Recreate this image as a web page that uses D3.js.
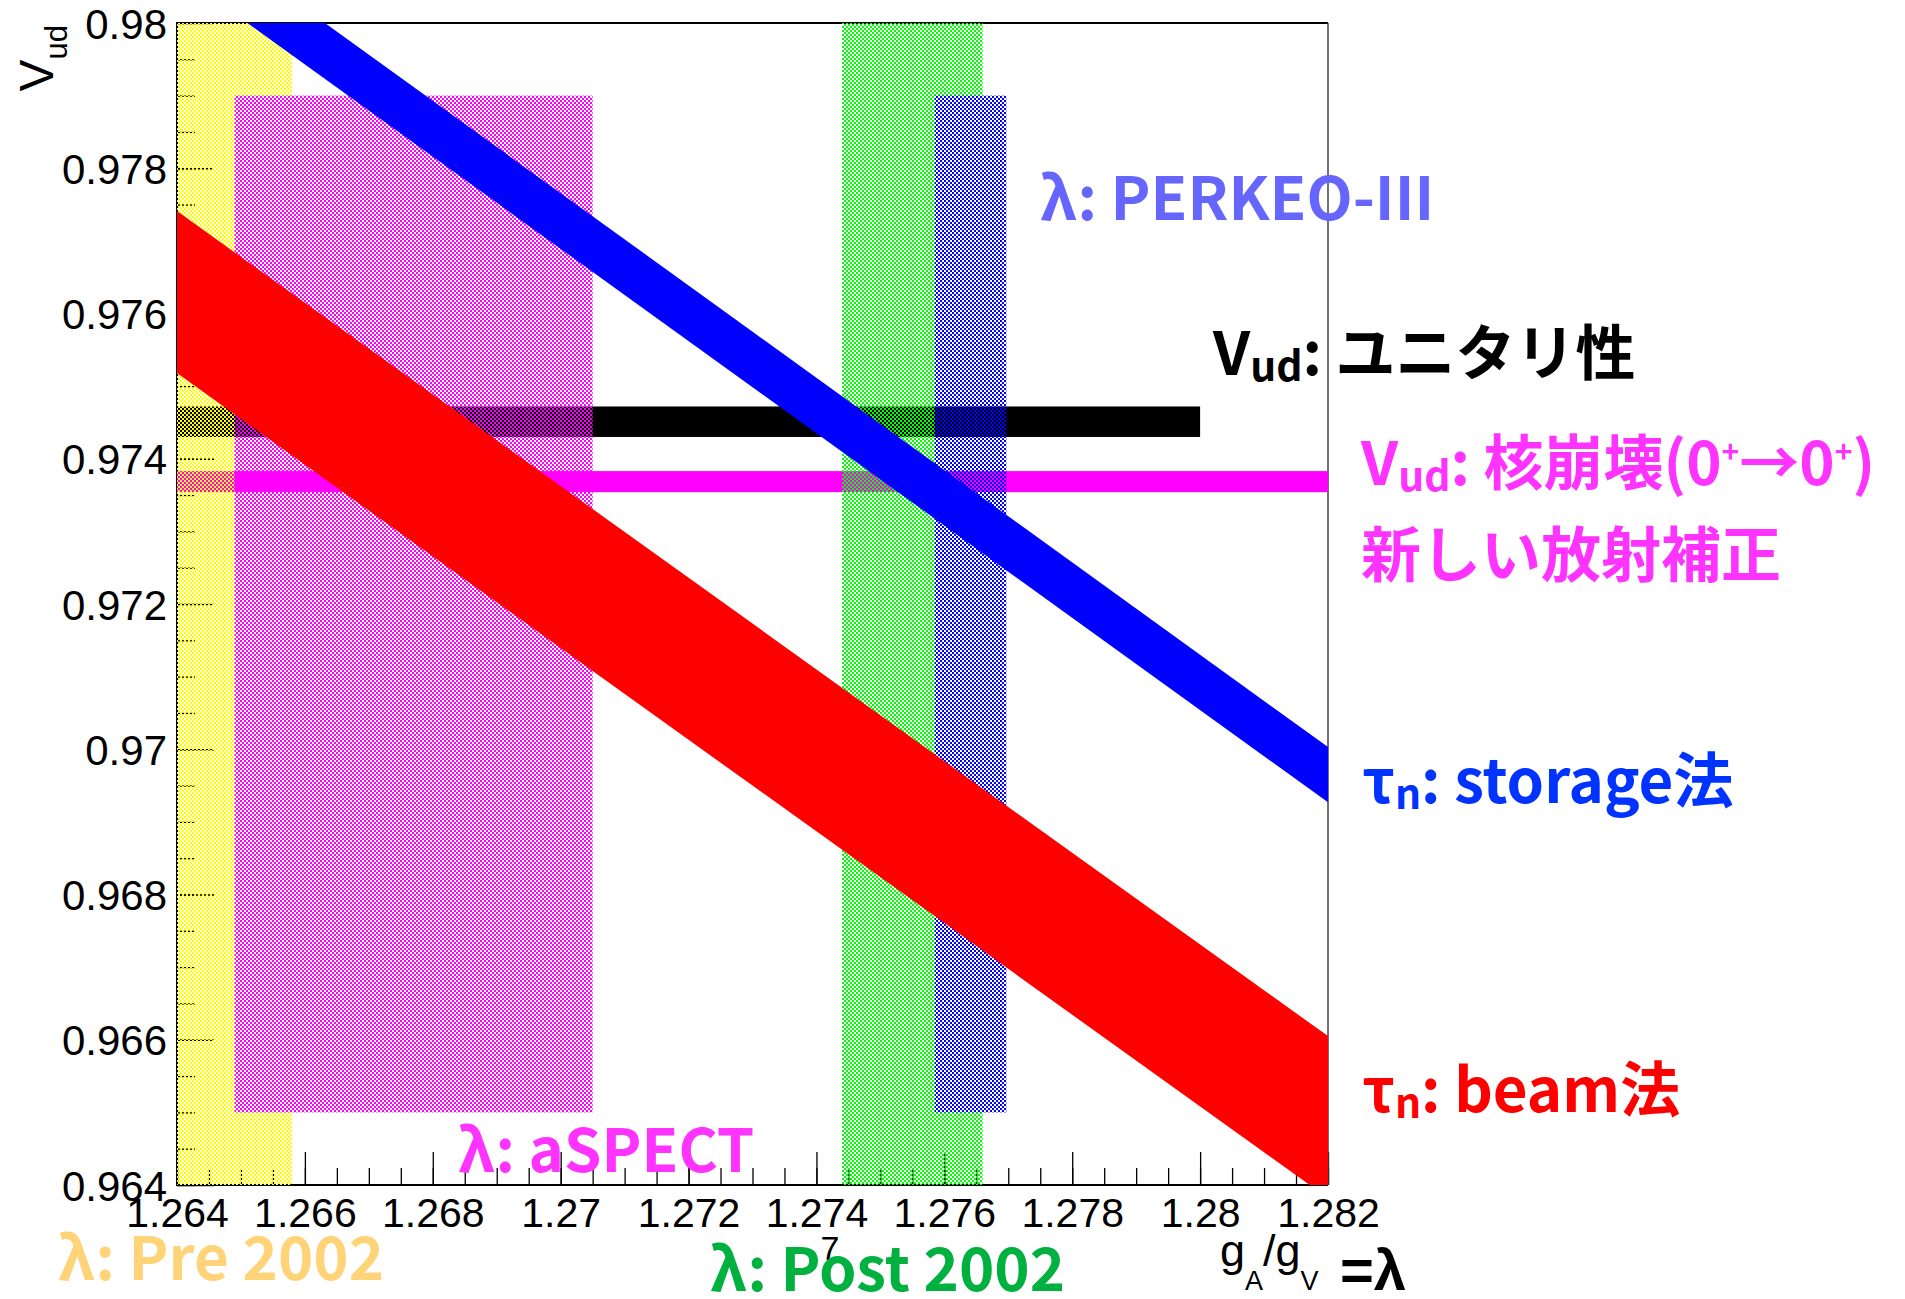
<!DOCTYPE html>
<html>
<head>
<meta charset="utf-8">
<script src="https://cdn.jsdelivr.net/npm/d3@7"></script>
<style>
  html, body { margin: 0; padding: 0; background: #fff; }
  svg { display: block; }
  .tick text { font-family: "Liberation Sans", Arial, sans-serif; fill: #000; }
  .lbl { font-family: "Noto Sans CJK JP", "Noto Sans", sans-serif; font-weight: 700; }
</style>
</head>
<body>
<div id="chart"></div>
<script>
// axis ranges (lambda = gA/gV on x, Vud on y)
const lamDomain = [1.264, 1.282];
const vudDomain = [0.964, 0.980];

const xTickValues = [1.264, 1.266, 1.268, 1.270, 1.272, 1.274, 1.276, 1.278, 1.280, 1.282];
const xTickLabels = ["1.264", "1.266", "1.268", "1.27", "1.272", "1.274", "1.276", "1.278", "1.28", "1.282"];
const yTickValues = [0.964, 0.966, 0.968, 0.970, 0.972, 0.974, 0.976, 0.978, 0.980];
const yTickLabels = ["0.964", "0.966", "0.968", "0.97", "0.972", "0.974", "0.976", "0.978", "0.98"];

// lambda measurements (dotted boxes)
const boxNames = ["Pre 2002", "aSPECT", "Post 2002", "PERKEO-III"];
const boxLamLo = [1.2630, 1.2649, 1.2744, 1.27585];
const boxLamHi = [1.2658, 1.2705, 1.2766, 1.27697];
const boxVudLo = [0.964, 0.965, 0.964, 0.965];
const boxVudHi = [0.980, 0.979, 0.980, 0.979];

// Vud horizontal bands
const hbandNames = ["unitarity", "0+ -> 0+"];
const hbandVudLo = [0.97430, 0.97354];
const hbandVudHi = [0.97472, 0.97383];
const hbandLamEnd = [1.280, 1.282];

// neutron lifetime bands, edges read at the two ends of the lambda axis
const edgeLam = [1.264, 1.282];
const storageUpper = [0.98147, 0.97003];
const storageLower = [0.98070, 0.96927];
const beamUpper = [0.97741, 0.96605];
const beamLower = [0.97518, 0.96382];

const W = 1905, H = 1299;
const mLeft = 177, mRight = 1328, mTop = 23, mBottom = 1185;

const svg = d3.select("#chart").append("svg")
  .attr("width", W).attr("height", H)
  .attr("viewBox", `0 0 ${W} ${H}`);

const x = d3.scaleLinear().domain(lamDomain).range([mLeft, mRight]);
const y = d3.scaleLinear().domain(vudDomain).range([mBottom, mTop]);

const defs = svg.append("defs");
defs.append("clipPath").attr("id", "plotclip")
  .append("rect")
  .attr("x", mLeft).attr("y", mTop)
  .attr("width", mRight - mLeft).attr("height", mBottom - mTop);

// checker fill like ROOT's dotted fill styles
const patColors = ["#ffff00", "#ff00ff", "#00ff00", "#0000ff"];
patColors.forEach((c, i) => {
  const p = defs.append("pattern")
    .attr("id", "pat" + i)
    .attr("patternUnits", "userSpaceOnUse")
    .attr("width", 4).attr("height", 4);
  p.append("rect").attr("x", 0).attr("y", 0).attr("width", 2).attr("height", 2).attr("fill", c);
  p.append("rect").attr("x", 2).attr("y", 2).attr("width", 2).attr("height", 2).attr("fill", c);
});

// axes (ticks inside the frame)
const xMinor = d3.range(0, 37).map(i => lamDomain[0] + i * 0.0005);
const yMinor = d3.range(0, 33).map(i => vudDomain[0] + i * 0.0005);

svg.append("g")
  .attr("transform", `translate(0,${mBottom})`)
  .call(d3.axisBottom(x).tickValues(xMinor).tickSize(-17).tickFormat(""))
  .call(g => g.select(".domain").remove())
  .selectAll("line").attr("stroke", "#000").attr("stroke-width", 1.3);

svg.append("g")
  .attr("transform", `translate(0,${mBottom})`)
  .call(d3.axisBottom(x).tickValues(xTickValues).tickSize(-33).tickPadding(12)
    .tickFormat((d, i) => xTickLabels[i]))
  .call(g => g.select(".domain").remove())
  .call(g => g.selectAll("line").attr("stroke", "#000").attr("stroke-width", 1.3))
  .call(g => g.selectAll("text").attr("font-size", 41).attr("dy", "0.72em"));

svg.append("g")
  .attr("transform", `translate(${mLeft},0)`)
  .call(d3.axisLeft(y).tickValues(yMinor).tickSize(-18).tickFormat(""))
  .call(g => g.select(".domain").remove())
  .selectAll("line").attr("stroke", "#000").attr("stroke-width", 1.3);

svg.append("g")
  .attr("transform", `translate(${mLeft},0)`)
  .call(d3.axisLeft(y).tickValues(yTickValues).tickSize(-37).tickPadding(10)
    .tickFormat((d, i) => yTickLabels[i]))
  .call(g => g.select(".domain").remove())
  .call(g => g.selectAll("line").attr("stroke", "#000").attr("stroke-width", 1.3))
  .call(g => g.selectAll("text").attr("font-size", 42).attr("dy", "0.36em"));

// frame
svg.append("path")
  .attr("d", `M${mRight},${mTop}H${mLeft}V${mBottom}H${mRight}`)
  .attr("fill", "none").attr("stroke", "#000").attr("stroke-width", 2);
svg.append("line")
  .attr("x1", mRight).attr("x2", mRight).attr("y1", mTop).attr("y2", mBottom)
  .attr("stroke", "#444").attr("stroke-width", 1.5);

const plot = svg.append("g").attr("clip-path", "url(#plotclip)");

// Vud bands
const hbandColors = ["#000000", "#ff00ff"];
plot.selectAll(".hband")
  .data(hbandNames)
  .enter().append("rect")
  .attr("class", "hband")
  .attr("x", x(lamDomain[0]))
  .attr("width", (d, i) => x(hbandLamEnd[i]) - x(lamDomain[0]))
  .attr("y", (d, i) => y(hbandVudHi[i]))
  .attr("height", (d, i) => y(hbandVudLo[i]) - y(hbandVudHi[i]))
  .attr("fill", (d, i) => hbandColors[i]);

// lambda boxes
plot.selectAll(".box")
  .data(boxNames)
  .enter().append("rect")
  .attr("class", "box")
  .attr("x", (d, i) => x(boxLamLo[i]))
  .attr("width", (d, i) => x(boxLamHi[i]) - x(boxLamLo[i]))
  .attr("y", (d, i) => y(boxVudHi[i]))
  .attr("height", (d, i) => y(boxVudLo[i]) - y(boxVudHi[i]))
  .attr("fill", (d, i) => `url(#pat${i})`);

// lifetime bands
function bandPath(upper, lower) {
  const pts = edgeLam.map((l, i) => [x(l), y(upper[i])])
    .concat(edgeLam.map((l, i) => [x(l), y(lower[i])]).reverse());
  return d3.line()(pts) + "Z";
}
plot.append("path").attr("d", bandPath(beamUpper, beamLower)).attr("fill", "#ff0000");
plot.append("path").attr("d", bandPath(storageUpper, storageLower)).attr("fill", "#0000ff");

// axis titles
const yt = svg.append("text")
  .attr("transform", `translate(53,${mTop + 2}) rotate(-90)`)
  .attr("text-anchor", "end")
  .attr("font-family", "Liberation Sans, Arial, sans-serif")
  .attr("font-size", 48);
yt.append("tspan").text("V");
yt.append("tspan").attr("dy", 14).attr("font-size", 31).text("ud");

const xt = svg.append("text")
  .attr("x", 1220).attr("y", 1266)
  .attr("font-family", "Liberation Sans, Arial, sans-serif")
  .attr("font-size", 45);
xt.append("tspan").text("g");
xt.append("tspan").attr("dy", 24).attr("font-size", 27).text("A");
xt.append("tspan").attr("dy", -24).text("/g");
xt.append("tspan").attr("dy", 24).attr("font-size", 27).text("V");
svg.append("text")
  .attr("x", 1340).attr("y", 1290)
  .attr("font-family", "Liberation Sans, Arial, sans-serif")
  .attr("font-weight", 700).attr("font-size", 58)
  .text("=λ");

svg.append("text")
  .attr("x", 830).attr("y", 1260).attr("text-anchor", "middle")
  .attr("font-family", "Liberation Sans, Arial, sans-serif")
  .attr("font-size", 34)
  .text("7");

// annotations
const FS = 60;
function label(px, py, color) {
  return svg.append("text").attr("class", "lbl")
    .attr("x", px).attr("y", py).attr("font-size", FS).attr("fill", color);
}

label(1040, 220, "#6666ff").text("λ: PERKEO-III");

const u = label(1213, 375, "#000000");
u.append("tspan").text("V");
u.append("tspan").attr("font-size", FS * 0.68).attr("dy", 6).text("ud");
u.append("tspan").attr("dy", -6).text(": ユニタリ性");

const n = label(1361, 485, "#ff33ff");
n.append("tspan").text("V");
n.append("tspan").attr("font-size", FS * 0.68).attr("dy", 6).text("ud");
n.append("tspan").attr("dy", -6).text(": 核崩壊(0");
n.append("tspan").attr("font-size", FS * 0.5).attr("dy", -22).text("+");
n.append("tspan").attr("dy", 22).text("→0");
n.append("tspan").attr("font-size", FS * 0.5).attr("dy", -22).text("+");
n.append("tspan").attr("dy", 22).text(")");
label(1361, 577, "#ff33ff").text("新しい放射補正");

const s = label(1362, 803, "#0033ff");
s.append("tspan").text("τ");
s.append("tspan").attr("font-size", FS * 0.68).attr("dy", 6).text("n");
s.append("tspan").attr("dy", -6).text(": storage法");

const b = label(1362, 1112, "#ff0000");
b.append("tspan").text("τ");
b.append("tspan").attr("font-size", FS * 0.68).attr("dy", 6).text("n");
b.append("tspan").attr("dy", -6).text(": beam法");

label(458, 1172, "#ff33ff").text("λ: aSPECT");
label(58, 1280, "#ffd479").text("λ: Pre 2002");
label(710, 1291, "#00b140").text("λ: Post 2002");
</script>
</body>
</html>
